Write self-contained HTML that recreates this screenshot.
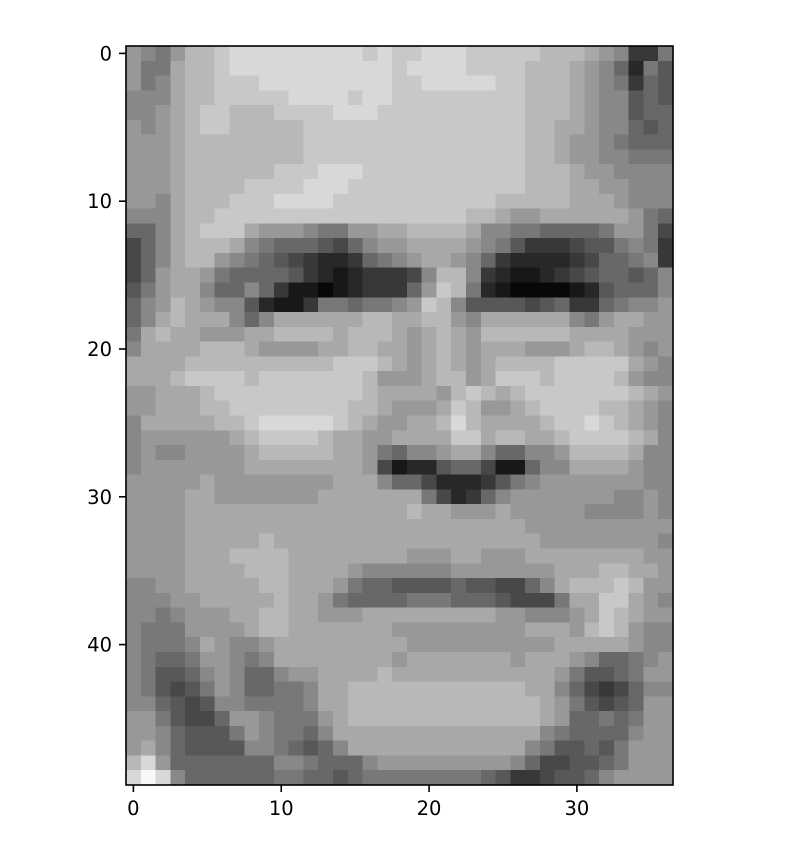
<!DOCTYPE html>
<html><head><meta charset="utf-8"><style>
html,body{margin:0;padding:0;background:#fff;}
svg{display:block;font-family:"DejaVu Sans","Liberation Sans",sans-serif;}
</style></head><body>
<svg id="chart" width="812" height="866" viewBox="0 0 812 866" xmlns="http://www.w3.org/2000/svg">
<g id="cells" shape-rendering="crispEdges"></g>
<rect x="126" y="46" width="547" height="739" fill="none" stroke="#000" stroke-width="1.6"/>
<g id="xticks"></g>
<g id="yticks"></g>
</svg>
<script>
// Pixel intensity rows (hex digit d -> gray d*16+8), 50 rows x 37 columns
const pixelRows = [
"987 9bbcdddddddddcdcc ddd cccccbbba98 3374",
"977abbcdddddddddddc dddd ccccbbba98 6275",
"978abbcccdddddddddc cddd ddccbbba98 7365",
"888abbccccc dddd cddc cccc ccccbbba98 8565",
"889abccbbbccccdddcc cccc ccccbbba98 8566",
"989abccbbbbbcccccccc cccc cccbbaa98 8656",
"999abbbbbbbbccccccc cccc ccccbba99 8766",
"999abbbbbbbbccccccc cccc ccccbba99 8877",
"999abbbbbbcccdddccc cccc ccccbbba99 8888",
"999abbbbccccdddcccc cccc ccccbbbaa9 9888",
"998abbbcccddddccccc cccc ccbbbbbaaa 9888",
"888abbccccccccccccc ccccbba99aaaaaa 976",
"668abccca99987799aa bbbba887766667 99 74",
"468abbba87666546899 aaaa98753334557 873",
"468abb987654322367 8 9aa986322223466 783",
"469aa976666532123334 8bb832112345665 685",
"579aa866863110123336 9cb72100001256 66 87",
"689ba988521137767 78 9cb855554563367 889",
"68aba aa868aaaaaabba abb98aaaaaa879 aa99",
"7aba a999aabbbbabbba 9aba9bbbbbbaaaa 999",
"8aaaabbba9999aabbaa 9aba9aaa999abba 989",
"aaaabbbbbbbbbbcccba 9aba9abbbbccccca 989",
"aaabccccbcccccccb99 9abb9accc bcccc b988",
"99aaabccccccccccbaaa a9bcbabccccccc ba98",
"99aaabbccccccccbba9 99acb99abccccbba 98",
"8aaaaabbcddddd cba99 aabdbaaaabccdcba 98",
"899999 9abccccbaa99a aaaccabbaabcccc ba8",
"8988999 9abbbbbaa976 889aa866889bbbba88",
"8999999 9aaaaaaaa941 225664116 88aaaa988",
"99999a99999999aaa86 642223578999999 988",
"9999aa9999999aaaaaa a742368999999988 98",
"9999aaaaaaaaaaaaaaa baa999a99999888 898",
"9999aaaaaaaaaaaaaaa aaaaaaaa99999999 99",
"9999aaaaabaaaaaaaaa aaaaaaaaa9999999 98",
"9999aaabbbbaaaaaaaa 999aa999aaaaaaaa 9",
"9999aaaabbbaaaa9888 888999999 9aaabbaa9",
"8899aaaaabbaaa97665 555655446 8abbbcb99",
"8889 9aaaaabaa976666 7776665444 7aacca98",
"8878999aabbaa999aaa aaaaaa998889acba99",
"87779999abbaaaaaaa9 99999999aaa9bcb988",
"8777 8a988 9aaaaaaaaa9 999999999aaaaa988",
"8766799878aaaaaaaa9 aaaaaaa9aaa9866789",
"87556898668 99aaaaba aaaaaaaaaa9755679",
"8754579866778aabbbb bbbbbbbbaa8643468",
"8865458877778aabbbb bbbbbbbbba975456 9",
"99754469987779abbbb bbbbbbbbba9667679",
"9986555798776 8aaaaa aaaaaaaaa8766668 9",
"9a8655558876568aaaa aaaaaaaa875565799",
"bd966666668876668999 9999998644556799",
"dfd866666677665677 7 77777653345568999"
];
// Axis tick values
const xTickValues = [0, 10, 20, 30];
const yTickValues = [0, 10, 20, 30, 40];
const nCols = 37, nRows = 50;

const X0 = 126, Y0 = 46, W = 547, H = 739;
const cw = W / nCols, ch = H / nRows;
function xScale(c){ return X0 + (c + 0.5) * cw; }
function yScale(r){ return Y0 + (r + 0.5) * ch; }
const NS = "http://www.w3.org/2000/svg";
const cells = document.getElementById('cells');
pixelRows.forEach((rowStr, r) => {
  let digits = rowStr.replace(/[^0-9a-f]/g, '');
  while (digits.length < nCols) digits += digits[digits.length - 1];
  digits = digits.slice(0, nCols);
  for (let c = 0; c < nCols; c++) {
    const v = parseInt(digits[c], 16);
    const g = Math.min(255, v * 16 + 8);
    const rect = document.createElementNS(NS, 'rect');
    
    
    rect.setAttribute('x', (xScale(c) - cw / 2).toFixed(2));
    rect.setAttribute('y', (yScale(r) - ch / 2).toFixed(2));
    rect.setAttribute('width', (cw + 0.6).toFixed(2));
    rect.setAttribute('height', (ch + 0.6).toFixed(2));
    rect.setAttribute('fill', `rgb(${g},${g},${g})`);
    cells.appendChild(rect);
  }
});
const xt = document.getElementById('xticks');
xTickValues.forEach(v => {
  const x = xScale(v);
  const l = document.createElementNS(NS, 'line');
  
  
  l.setAttribute('x1', x); l.setAttribute('x2', x);
  l.setAttribute('y1', Y0 + H); l.setAttribute('y2', Y0 + H + 7);
  l.setAttribute('stroke', '#000'); l.setAttribute('stroke-width', '1.6');
  xt.appendChild(l);
  const t = document.createElementNS(NS, 'text');
  
  
  t.setAttribute('x', x); t.setAttribute('y', Y0 + H + 30);
  t.setAttribute('text-anchor', 'middle'); t.setAttribute('font-size', '19.5');
  t.textContent = v;
  xt.appendChild(t);
});
const yt = document.getElementById('yticks');
yTickValues.forEach(v => {
  const y = yScale(v);
  const l = document.createElementNS(NS, 'line');
  
  
  l.setAttribute('x1', X0 - 7); l.setAttribute('x2', X0);
  l.setAttribute('y1', y); l.setAttribute('y2', y);
  l.setAttribute('stroke', '#000'); l.setAttribute('stroke-width', '1.6');
  yt.appendChild(l);
  const t = document.createElementNS(NS, 'text');
  
  
  t.setAttribute('x', X0 - 14); t.setAttribute('y', y + 7);
  t.setAttribute('text-anchor', 'end'); t.setAttribute('font-size', '19.5');
  t.textContent = v;
  yt.appendChild(t);
});
</script>
</body></html>
